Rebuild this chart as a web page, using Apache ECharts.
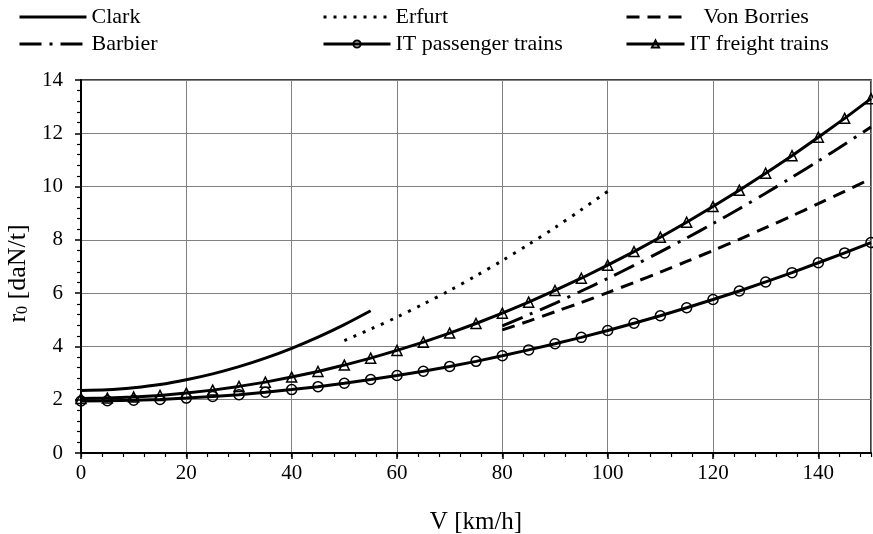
<!DOCTYPE html>
<html>
<head>
<meta charset="utf-8">
<script src="https://cdn.jsdelivr.net/npm/echarts@6/dist/echarts.min.js"></script>
<style>
html,body{margin:0;padding:0;background:#fff;}
#chart{width:873px;height:534px;}
</style>
</head>
<body>
<div id="chart"></div>
<script>
// ---- data ----
const speedsIT = [0,5,10,15,20,25,30,35,40,45,50,55,60,65,70,75,80,85,90,95,100,105,110,115,120,125,130,135,140,145,150];
const itPassenger = [1.95,1.96,1.98,2.01,2.06,2.12,2.19,2.28,2.38,2.49,2.62,2.76,2.91,3.07,3.25,3.44,3.65,3.87,4.10,4.34,4.60,4.87,5.15,5.45,5.76,6.08,6.42,6.77,7.14,7.51,7.90];
const itFreight = [2.05,2.06,2.10,2.16,2.25,2.36,2.50,2.66,2.85,3.06,3.30,3.56,3.85,4.16,4.50,4.86,5.25,5.66,6.10,6.56,7.05,7.56,8.10,8.66,9.25,9.86,10.50,11.16,11.85,12.56,13.30];
const speedsClark = [0,5,10,15,20,25,30,35,40,45,50,55];
const clark = [2.35,2.37,2.45,2.57,2.75,2.97,3.24,3.56,3.93,4.35,4.82,5.34];
const speedsErfurt = [50,55,60,65,70,75,80,85,90,95,100];
const erfurt = [4.22,4.65,5.10,5.59,6.10,6.65,7.22,7.83,8.46,9.13,9.82];
const speedsHigh = [80,85,90,95,100,105,110,115,120,125,130,135,140,145,150];
const vonBorries = [4.62,4.95,5.30,5.65,6.02,6.40,6.79,7.19,7.60,8.02,8.46,8.90,9.36,9.82,10.30];
const barbier = [4.77,5.19,5.62,6.08,6.55,7.04,7.55,8.07,8.61,9.17,9.75,10.35,10.96,11.59,12.24];
const xMin = 0, xMax = 150, xStep = 20, xMinorStep = 4;
const yMin = 0, yMax = 14, yStep = 2;

const pairs = (xs, ys) => xs.map((x, i) => [x, ys[i]]);
const FONT = 'Liberation Serif';

const chart = echarts.init(document.getElementById('chart'), null, {renderer: 'canvas'});

const noSym = {color: 'rgba(0,0,0,0)', borderColor: 'rgba(0,0,0,0)', borderWidth: 0, opacity: 0};
const legendText = {fontFamily: FONT, fontSize: 22, color: '#000'};
function lg(item, left, top, width, textPad) {
  return {
    orient: 'horizontal', padding: 0, itemWidth: width, itemHeight: 9,
    textStyle: Object.assign({}, legendText, textPad ? {padding: [0, 0, 0, textPad]} : {}),
    lineStyle: {width: 3},
    selectedMode: false, data: [item], left: left, top: top
  };
}

const lineBase = {type: 'line', xAxisIndex: 0, yAxisIndex: 0, animation: false};

chart.setOption({
  backgroundColor: '#fff',
  animation: false,
  legend: [
    lg({name: 'Clark', itemStyle: noSym}, 18, 6, 67),
    lg({name: 'Barbier', itemStyle: noSym}, 18, 33, 67),
    lg({name: 'Erfurt', itemStyle: noSym}, 322, 6, 67),
    lg({name: 'IT passenger trains'}, 322, 33, 67),
    lg({name: 'Von Borries', itemStyle: noSym}, 625, 6, 58, 14),
    lg({name: 'IT freight trains'}, 625, 33, 58)
  ],
  grid: {left: 81, right: 2, top: 80, bottom: 81, show: true, borderColor: '#000', borderWidth: 1.5,
         backgroundColor: 'transparent', containLabel: false, outerBoundsMode: 'none'},
  xAxis: [
    {
      type: 'value', min: xMin, max: xMax, interval: xStep,
      name: 'V [km/h]', nameLocation: 'middle', nameGap: 57,
      nameTextStyle: {fontFamily: FONT, fontSize: 25, color: '#000'},
      axisLine: {show: true, onZero: false, lineStyle: {color: '#000', width: 2}},
      axisTick: {show: true, inside: false, length: 6, lineStyle: {color: '#000', width: 1.5}},
      axisLabel: {fontFamily: FONT, fontSize: 21, color: '#000', margin: 10, showMaxLabel: false},
      splitLine: {show: true, lineStyle: {color: '#808080', width: 1}}
    },
    {
      type: 'value', min: xMin, max: xMax, interval: xMinorStep, position: 'bottom',
      axisLine: {show: false}, axisLabel: {show: false}, splitLine: {show: false},
      axisTick: {show: true, inside: false, length: 4, lineStyle: {color: '#000', width: 1.2}}
    }
  ],
  yAxis: {
    type: 'value', min: yMin, max: yMax, interval: yStep,
    name: '{i|r}{s|0}{i| [daN/t]}', nameLocation: 'middle', nameGap: 47, nameRotate: 90,
    nameTextStyle: {
      fontFamily: FONT, fontSize: 26, color: '#000', padding: [0, 14, 0, 0],
      rich: {
        i: {fontFamily: FONT, fontSize: 26, color: '#000', lineHeight: 30, verticalAlign: 'bottom'},
        s: {fontFamily: FONT, fontSize: 16, color: '#000', lineHeight: 10, verticalAlign: 'bottom'}
      }
    },
    axisLine: {show: true, onZero: false, lineStyle: {color: '#000', width: 2}},
    axisTick: {show: true, inside: false, length: 6, lineStyle: {color: '#000', width: 1.5}},
    minorTick: {show: true, splitNumber: 5, length: 4, lineStyle: {color: '#000', width: 1.2}},
    axisLabel: {fontFamily: FONT, fontSize: 21, color: '#000', margin: 18},
    splitLine: {show: true, lineStyle: {color: '#808080', width: 1}}
  },
  series: [
    Object.assign({}, lineBase, {
      name: 'Clark', data: pairs(speedsClark, clark), symbol: 'none', showSymbol: false, smooth: 0.3,
      lineStyle: {color: '#000', width: 3, type: 'solid'}, itemStyle: {color: '#000'}, z: 3
    }),
    Object.assign({}, lineBase, {
      name: 'Erfurt', data: pairs(speedsErfurt, erfurt), symbol: 'none', showSymbol: false, smooth: 0.3,
      lineStyle: {color: '#000', width: 3, type: [3, 7], cap: 'butt'}, itemStyle: {color: '#000'}, z: 3
    }),
    Object.assign({}, lineBase, {
      name: 'Von Borries', data: pairs(speedsHigh, vonBorries), symbol: 'none', showSymbol: false, smooth: 0.3,
      lineStyle: {color: '#000', width: 3, type: [13, 8]}, itemStyle: {color: '#000'}, z: 3
    }),
    Object.assign({}, lineBase, {
      name: 'Barbier', data: pairs(speedsHigh, barbier), symbol: 'none', showSymbol: false, smooth: 0.3,
      lineStyle: {color: '#000', width: 3, type: [22, 8, 3, 8]}, itemStyle: {color: '#000'}, z: 3
    }),
    Object.assign({}, lineBase, {
      name: 'IT passenger trains', data: pairs(speedsIT, itPassenger), symbol: 'circle', symbolSize: 10, showSymbol: true,
      lineStyle: {color: '#000', width: 3}, itemStyle: {color: 'rgba(255,255,255,0)', borderColor: '#000', borderWidth: 1.5}, z: 4
    }),
    Object.assign({}, lineBase, {
      name: 'IT freight trains', data: pairs(speedsIT, itFreight), symbol: 'triangle', symbolSize: 10, showSymbol: true,
      lineStyle: {color: '#000', width: 3}, itemStyle: {color: 'rgba(255,255,255,0)', borderColor: '#000', borderWidth: 1.5}, z: 4
    })
  ]
});
</script>
</body>
</html>
